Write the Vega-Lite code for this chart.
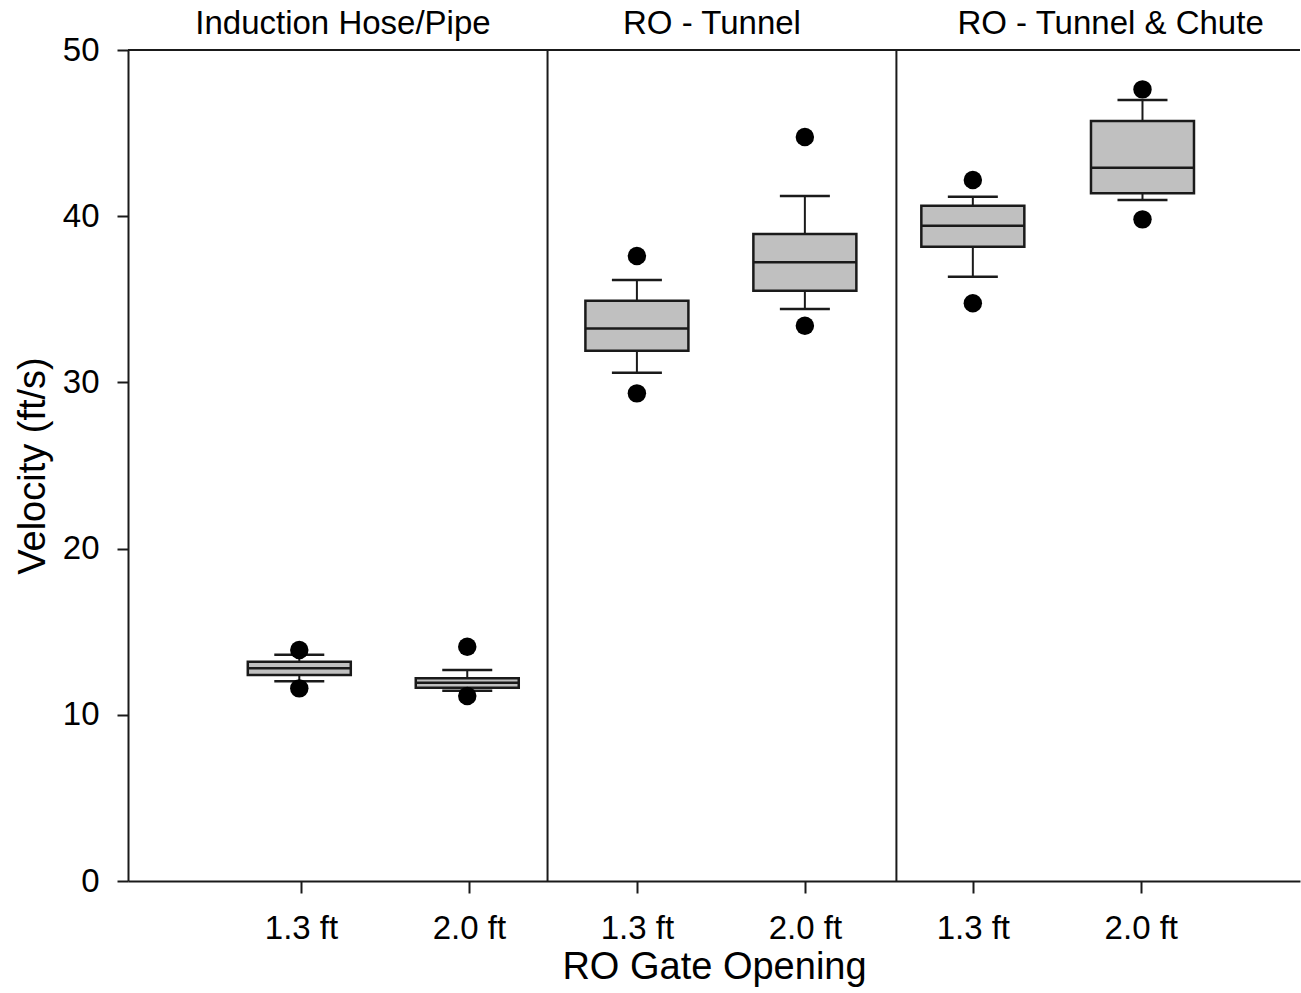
{
  "$schema": "https://vega.github.io/schema/vega-lite/v6.json",
  "width": 1172,
  "height": 831,
  "autosize": {"type": "none"},
  "padding": {"left": 128, "top": 50, "right": 1, "bottom": 112},
  "background": "white",
  "config": {
    "view": {"stroke": null},
    "font": "Liberation Sans",
    "axis": {
      "domainColor": "#1a1a1a",
      "tickColor": "#1a1a1a",
      "domainWidth": 2,
      "tickWidth": 2,
      "labelColor": "#000000",
      "titleColor": "#000000",
      "labelFont": "Liberation Sans",
      "titleFont": "Liberation Sans",
      "titleFontWeight": "normal",
      "grid": false
    }
  },
  "datasets": {
    "boxes": [
      {"group": "Induction Hose/Pipe", "gate": "1.3 ft", "pos": 0.99, "wlo": 12.02, "q1": 12.39, "med": 12.80, "q3": 13.19, "whi": 13.62},
      {"group": "Induction Hose/Pipe", "gate": "2.0 ft", "pos": 1.99, "wlo": 11.45, "q1": 11.63, "med": 11.93, "q3": 12.20, "whi": 12.70},
      {"group": "RO - Tunnel", "gate": "1.3 ft", "pos": 3.0, "wlo": 30.58, "q1": 31.91, "med": 33.25, "q3": 34.92, "whi": 36.16},
      {"group": "RO - Tunnel", "gate": "2.0 ft", "pos": 4.0, "wlo": 34.42, "q1": 35.52, "med": 37.23, "q3": 38.93, "whi": 41.22},
      {"group": "RO - Tunnel & Chute", "gate": "1.3 ft", "pos": 5.0, "wlo": 36.36, "q1": 38.16, "med": 39.43, "q3": 40.63, "whi": 41.17},
      {"group": "RO - Tunnel & Chute", "gate": "2.0 ft", "pos": 6.01, "wlo": 40.97, "q1": 41.38, "med": 42.92, "q3": 45.73, "whi": 46.99}
    ],
    "outliers": [
      {"pos": 0.99, "v": 13.90}, {"pos": 0.99, "v": 11.59},
      {"pos": 1.99, "v": 14.10}, {"pos": 1.99, "v": 11.13},
      {"pos": 3.0, "v": 37.61}, {"pos": 3.0, "v": 29.34},
      {"pos": 4.0, "v": 44.77}, {"pos": 4.0, "v": 33.41},
      {"pos": 5.0, "v": 42.18}, {"pos": 5.0, "v": 34.76},
      {"pos": 6.01, "v": 47.63}, {"pos": 6.01, "v": 39.81}
    ],
    "groups": [
      {"group": "Induction Hose/Pipe", "center": 1.25, "sep": 2.468},
      {"group": "RO - Tunnel", "center": 3.447, "sep": 4.545},
      {"group": "RO - Tunnel & Chute", "center": 5.82, "sep": null}
    ]
  },
  "layer": [
    {
      "data": {"name": "boxes"},
      "mark": {"type": "rule", "strokeWidth": 2, "color": "#1a1a1a"},
      "encoding": {
        "x": {
          "field": "pos", "type": "quantitative", "title": "RO Gate Opening",
          "scale": {"domain": [0, 6.918], "nice": false, "zero": false},
          "axis": {
            "values": [1, 2, 3, 4, 5, 6],
            "labelExpr": "datum.value % 2 == 1 ? '1.3 ft' : '2.0 ft'",
            "tickSize": 12,
            "labelFontSize": 33,
            "titleFontSize": 38,
            "labelPadding": 19,
            "titlePadding": 3
          }
        },
        "y": {
          "field": "wlo", "type": "quantitative", "title": "Velocity (ft/s)",
          "scale": {"domain": [0, 50], "nice": false, "zero": true},
          "axis": {
            "values": [0, 10, 20, 30, 40, 50],
            "tickSize": 11,
            "labelFontSize": 33,
            "titleFontSize": 38,
            "labelPadding": 18,
            "titlePadding": 10
          }
        },
        "y2": {"field": "whi"}
      }
    },
    {
      "data": {"name": "boxes"},
      "mark": {"type": "bar", "size": 103, "fill": "#c0c0c0", "stroke": "#1a1a1a", "strokeWidth": 2.5},
      "encoding": {
        "x": {"field": "pos", "type": "quantitative", "title": "RO Gate Opening"},
        "y": {"field": "q1", "type": "quantitative", "title": "Velocity (ft/s)"},
        "y2": {"field": "q3"}
      }
    },
    {
      "data": {"name": "boxes"},
      "mark": {"type": "tick", "orient": "horizontal", "size": 103, "thickness": 2.5, "color": "#1a1a1a", "opacity": 1},
      "encoding": {
        "x": {"field": "pos", "type": "quantitative", "title": "RO Gate Opening"},
        "y": {"field": "med", "type": "quantitative", "title": "Velocity (ft/s)"}
      }
    },
    {
      "data": {"name": "boxes"},
      "mark": {"type": "tick", "orient": "horizontal", "size": 50, "thickness": 2.5, "color": "#1a1a1a", "opacity": 1},
      "encoding": {
        "x": {"field": "pos", "type": "quantitative", "title": "RO Gate Opening"},
        "y": {"field": "wlo", "type": "quantitative", "title": "Velocity (ft/s)"}
      }
    },
    {
      "data": {"name": "boxes"},
      "mark": {"type": "tick", "orient": "horizontal", "size": 50, "thickness": 2.5, "color": "#1a1a1a", "opacity": 1},
      "encoding": {
        "x": {"field": "pos", "type": "quantitative", "title": "RO Gate Opening"},
        "y": {"field": "whi", "type": "quantitative", "title": "Velocity (ft/s)"}
      }
    },
    {
      "data": {"name": "outliers"},
      "mark": {"type": "point", "shape": "circle", "filled": true, "size": 340, "color": "#000000", "opacity": 1},
      "encoding": {
        "x": {"field": "pos", "type": "quantitative", "title": "RO Gate Opening"},
        "y": {"field": "v", "type": "quantitative", "title": "Velocity (ft/s)"}
      }
    },
    {
      "data": {"name": "groups"},
      "transform": [{"filter": "datum.sep != null"}],
      "mark": {"type": "rule", "strokeWidth": 2, "color": "#1a1a1a"},
      "encoding": {
        "x": {"field": "sep", "type": "quantitative", "title": "RO Gate Opening"}
      }
    },
    {
      "data": {"values": [{}]},
      "mark": {"type": "rule", "strokeWidth": 2, "color": "#1a1a1a"},
      "encoding": {
        "y": {"datum": 50, "type": "quantitative", "title": "Velocity (ft/s)"}
      }
    },
    {
      "data": {"name": "groups"},
      "mark": {"type": "text", "fontSize": 33, "font": "Liberation Sans", "color": "#000000", "baseline": "middle", "align": "center", "dy": -26},
      "encoding": {
        "x": {"field": "center", "type": "quantitative", "title": "RO Gate Opening"},
        "y": {"datum": 50, "type": "quantitative", "title": "Velocity (ft/s)"},
        "text": {"field": "group"}
      }
    }
  ]
}
